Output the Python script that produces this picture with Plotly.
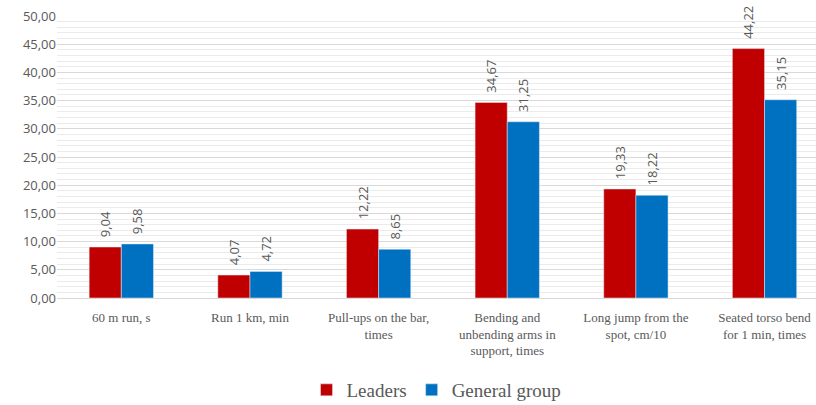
import plotly.graph_objects as go

categories = ["60 m run, s", "Run 1 km, min", "Pull-ups on the bar,<br>times",
              "Bending and<br>unbending arms in<br>support, times",
              "Long jump from the<br>spot, cm/10", "Seated torso bend<br>for 1 min, times"]
leaders = [9.04, 4.07, 12.22, 34.67, 19.33, 44.22]
general = [9.58, 4.72, 8.65, 31.25, 18.22, 35.15]
leaders_lbl = ["9,04", "4,07", "12,22", "34,67", "19,33", "44,22"]
general_lbl = ["9,58", "4,72", "8,65", "31,25", "18,22", "35,15"]
x = list(range(len(categories)))

pad = "\u00a0\u00a0"
lblfont = dict(family="Open Sans, Calibri, sans-serif", size=13, color="#595959")
fig = go.Figure()
fig.add_trace(go.Bar(x=x, y=leaders, name="Leaders", marker_color="#C00000",
                     text=[pad + t for t in leaders_lbl], textposition="outside", textangle=-90,
                     constraintext="none", textfont=lblfont, cliponaxis=False))
fig.add_trace(go.Bar(x=x, y=general, name="General group", marker_color="#0070C0",
                     text=[pad + t for t in general_lbl], textposition="outside", textangle=-90,
                     constraintext="none", textfont=lblfont, cliponaxis=False))

fig.update_layout(
    width=816, height=405, barmode="group", bargap=0.5, bargroupgap=0,
    separators=",.",
    plot_bgcolor="white", paper_bgcolor="white",
    margin=dict(l=57, r=0, t=16, b=107),
    legend=dict(orientation="h", x=0.5, xanchor="center", yref="container",
                y=0.037, yanchor="middle", itemwidth=30,
                font=dict(family="Liberation Serif, serif", size=19, color="#595959")),
    xaxis=dict(tickmode="array", tickvals=x, ticktext=categories, range=[-0.5, 5.4],
               showline=True, linecolor="#D9D9D9", ticks="", ticklabelstandoff=7,
               automargin=False,
               tickfont=dict(family="Liberation Serif, serif", size=13, color="#595959")),
    yaxis=dict(range=[0, 50], dtick=5, tickformat=".2f", showgrid=True, gridcolor="#D9D9D9",
               zeroline=False, ticks="", automargin=False,
               minor=dict(dtick=1, showgrid=True, gridcolor="#EBEBEB"),
               tickfont=dict(family="Open Sans, Calibri, sans-serif", size=13, color="#595959")),
)
fig.write_html("out.html")
